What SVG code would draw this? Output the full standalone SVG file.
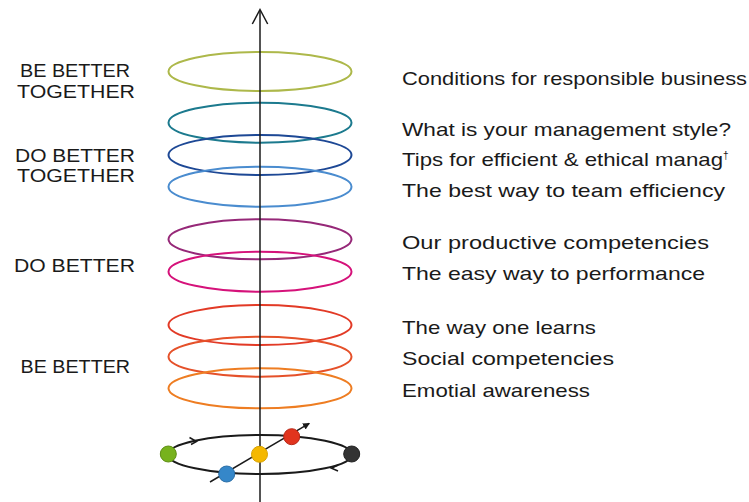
<svg xmlns="http://www.w3.org/2000/svg" width="749" height="502" viewBox="0 0 749 502">
<style>
.ring{fill:none;stroke-width:2}
.lbl{font-family:"Liberation Sans",Arial,sans-serif;font-size:18px;fill:#1a1a1a;text-anchor:middle}
.item{font-family:"Liberation Sans",Arial,sans-serif;font-size:19px;fill:#1a1a1a}
.ln{fill:none;stroke:#1a1a1a;stroke-width:1.5}
.dot{stroke-width:1}
</style>
<defs>
<marker id="ah" viewBox="0 0 10 10" refX="9" refY="5" markerWidth="7" markerHeight="7" orient="auto" markerUnits="userSpaceOnUse">
<path d="M0,0 L10,5 L0,10 Z" fill="#1a1a1a"/>
</marker>
</defs>
<rect width="749" height="502" fill="#fff"/>

<g id="rings">
<ellipse id="ring-green" class="ring" cx="260" cy="71.5" rx="91.5" ry="19.5" stroke="#adb84a"/>
<ellipse id="ring-teal" class="ring" cx="260" cy="122.7" rx="91.5" ry="20" stroke="#1c7a8e"/>
<ellipse id="ring-navy" class="ring" cx="260" cy="155" rx="91.5" ry="20" stroke="#1d4895"/>
<ellipse id="ring-lightblue" class="ring" cx="260" cy="186.7" rx="91.5" ry="20" stroke="#4a8ccf"/>
<ellipse id="ring-purple" class="ring" cx="260" cy="239.3" rx="91.5" ry="20" stroke="#962878"/>
<ellipse id="ring-magenta" class="ring" cx="260" cy="271.7" rx="91.5" ry="20" stroke="#d5127a"/>
<ellipse id="ring-red" class="ring" cx="260" cy="325" rx="91.5" ry="20" stroke="#e23a26"/>
<ellipse id="ring-redorange" class="ring" cx="260" cy="356.7" rx="91.5" ry="20" stroke="#e5512a"/>
<ellipse id="ring-orange" class="ring" cx="260" cy="388.3" rx="91.5" ry="20" stroke="#ee7d22"/>
</g>

<g id="connectors">
<line class="ln" x1="260" y1="10" x2="260" y2="502"/>
<polyline class="ln" points="252.3,24 260,9.5 267.7,24" stroke-width="1.3"/>
<ellipse cx="260" cy="454.5" rx="92" ry="19.5" fill="none" stroke="#1a1a1a" stroke-width="2"/>
<polyline class="ln" points="189.5,437.5 196.5,441.5 191,444.5" stroke-width="1.4"/>
<polyline class="ln" points="338,465 331.5,468.3 338,471" stroke-width="1.4"/>
<line x1="210" y1="482" x2="309.3" y2="423.3" stroke="#1a1a1a" stroke-width="1.5" marker-end="url(#ah)"/>
</g>

<g id="dots">
<circle id="dot-green" class="dot" cx="168.3" cy="454" r="8" fill="#77b21d" stroke="#5e8e14"/>
<circle id="dot-black" class="dot" cx="351.7" cy="454" r="8" fill="#333" stroke="#222"/>
<circle id="dot-blue" class="dot" cx="226.7" cy="474" r="8" fill="#3587c9" stroke="#2a6ea6"/>
<circle id="dot-yellow" class="dot" cx="259.5" cy="454.3" r="8" fill="#f5b800" stroke="#d9a200"/>
<circle id="dot-red" class="dot" cx="291.7" cy="436.7" r="8" fill="#e1341e" stroke="#b82818"/>
</g>

<g id="label-be-better-together">
<text class="lbl" x="75" y="77" textLength="110" lengthAdjust="spacingAndGlyphs">BE BETTER</text>
<text class="lbl" x="76" y="98" textLength="118" lengthAdjust="spacingAndGlyphs">TOGETHER</text>
</g>
<g id="label-do-better-together">
<text class="lbl" x="75" y="161.5" textLength="120" lengthAdjust="spacingAndGlyphs">DO BETTER</text>
<text class="lbl" x="76" y="182" textLength="118" lengthAdjust="spacingAndGlyphs">TOGETHER</text>
</g>
<g id="label-do-better">
<text class="lbl" x="74.5" y="271.7" textLength="121" lengthAdjust="spacingAndGlyphs">DO BETTER</text>
</g>
<g id="label-be-better">
<text class="lbl" x="75.3" y="372.7" textLength="109.5" lengthAdjust="spacingAndGlyphs">BE BETTER</text>
</g>

<g id="items">
<text class="item" x="402" y="85" textLength="345" lengthAdjust="spacingAndGlyphs">Conditions for responsible business</text>
<text class="item" x="402" y="136" textLength="329" lengthAdjust="spacingAndGlyphs">What is your management style?</text>
<text class="item" x="402" y="166"><tspan textLength="321" lengthAdjust="spacingAndGlyphs">Tips for efficient &amp; ethical manag</tspan><tspan font-size="10" dy="-7">†</tspan></text>
<text class="item" x="402" y="197" textLength="323" lengthAdjust="spacingAndGlyphs">The best way to team efficiency</text>
<text class="item" x="402" y="249" textLength="307" lengthAdjust="spacingAndGlyphs">Our productive competencies</text>
<text class="item" x="402" y="280" textLength="303" lengthAdjust="spacingAndGlyphs">The easy way to performance</text>
<text class="item" x="402" y="334" textLength="194" lengthAdjust="spacingAndGlyphs">The way one learns</text>
<text class="item" x="402" y="365" textLength="212" lengthAdjust="spacingAndGlyphs">Social competencies</text>
<text class="item" x="402" y="397" textLength="188" lengthAdjust="spacingAndGlyphs">Emotial awareness</text>
</g>
</svg>
